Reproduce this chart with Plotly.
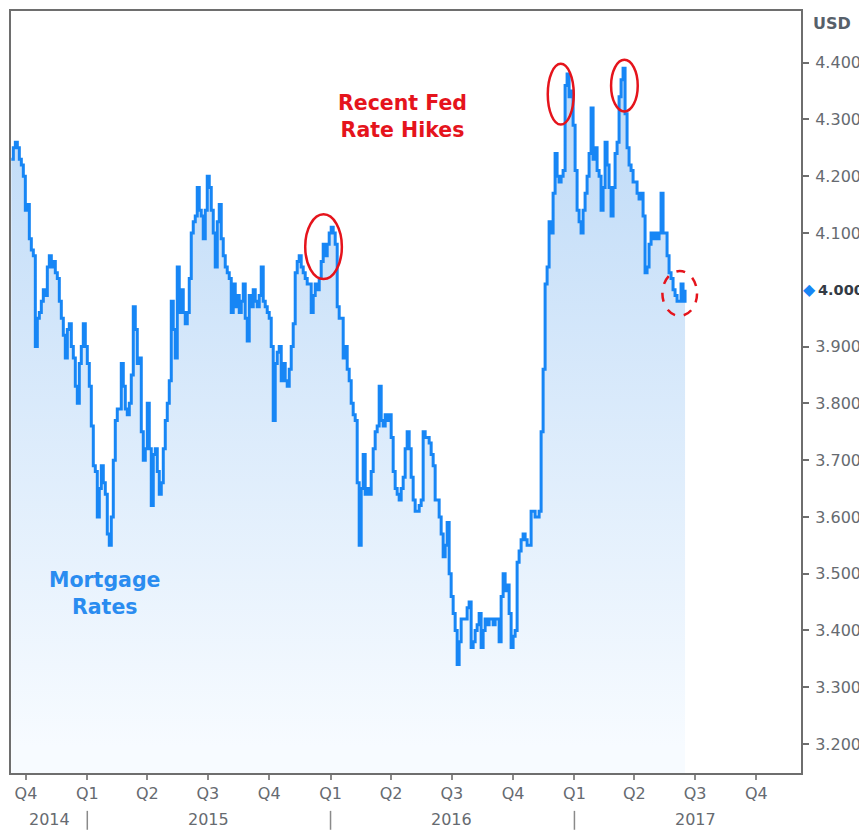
import plotly.graph_objects as go
import pandas as pd

# ---------------- data ----------------
start_date = "2014-09-09"
step_days = 3
rates = [
    4.23, 4.25, 4.26, 4.25, 4.23, 4.22, 4.20, 4.14, 4.15, 4.09,
    4.07, 4.06, 3.90, 3.95, 3.96, 3.98, 4.00, 3.99, 4.04, 4.06,
    4.04, 4.05, 4.03, 4.02, 3.98, 3.95, 3.92, 3.88, 3.93, 3.94,
    3.90, 3.88, 3.83, 3.80, 3.87, 3.90, 3.94, 3.90, 3.87, 3.83,
    3.76, 3.69, 3.68, 3.60, 3.65, 3.69, 3.66, 3.64, 3.57, 3.55,
    3.60, 3.70, 3.77, 3.79, 3.79, 3.87, 3.83, 3.79, 3.78, 3.80,
    3.85, 3.97, 3.93, 3.87, 3.88, 3.75, 3.70, 3.72, 3.80, 3.72,
    3.62, 3.71, 3.72, 3.68, 3.64, 3.66, 3.72, 3.77, 3.80, 3.84,
    3.98, 3.93, 3.88, 4.04, 3.96, 4.00, 3.96, 3.94, 3.96, 4.02,
    4.10, 4.12, 4.13, 4.18, 4.14, 4.13, 4.09, 4.14, 4.20, 4.18,
    4.14, 4.10, 4.04, 4.12, 4.15, 4.09, 4.06, 4.04, 4.03, 4.02,
    3.96, 4.01, 3.97, 3.99, 3.96, 3.98, 4.01, 3.95, 3.91, 3.99,
    3.97, 4.00, 3.98, 3.97, 3.99, 4.04, 3.98, 3.97, 3.96, 3.95,
    3.90, 3.77, 3.87, 3.89, 3.90, 3.84, 3.87, 3.84, 3.83, 3.86,
    3.90, 3.94, 4.03, 4.05, 4.06, 4.04, 4.03, 4.02, 4.01, 4.01,
    3.96, 3.99, 4.01, 4.00, 4.02, 4.05, 4.08, 4.06, 4.08, 4.10,
    4.11, 4.10, 4.08, 3.97, 3.95, 3.95, 3.88, 3.90, 3.86, 3.84,
    3.80, 3.78, 3.77, 3.66, 3.55, 3.65, 3.71, 3.64, 3.65, 3.64,
    3.68, 3.72, 3.75, 3.76, 3.83, 3.77, 3.76, 3.78, 3.77, 3.78,
    3.74, 3.68, 3.65, 3.64, 3.63, 3.65, 3.67, 3.72, 3.75, 3.72,
    3.67, 3.63, 3.61, 3.61, 3.62, 3.63, 3.75, 3.74, 3.74, 3.73,
    3.71, 3.69, 3.63, 3.63, 3.60, 3.57, 3.53, 3.55, 3.59, 3.50,
    3.46, 3.43, 3.40, 3.34, 3.38, 3.42, 3.42, 3.42, 3.44, 3.45,
    3.37, 3.38, 3.40, 3.41, 3.43, 3.37, 3.40, 3.42, 3.41, 3.42,
    3.42, 3.41, 3.42, 3.42, 3.38, 3.46, 3.50, 3.47, 3.48, 3.43,
    3.37, 3.39, 3.40, 3.52, 3.54, 3.56, 3.57, 3.56, 3.55, 3.55,
    3.61, 3.61, 3.60, 3.60, 3.61, 3.75, 3.86, 4.01, 4.04, 4.12,
    4.10, 4.17, 4.24, 4.20, 4.19, 4.20, 4.21, 4.36, 4.38, 4.34,
    4.35, 4.29, 4.21, 4.14, 4.12, 4.10, 4.14, 4.17, 4.20, 4.24,
    4.32, 4.23, 4.25, 4.21, 4.20, 4.14, 4.18, 4.26, 4.22, 4.18,
    4.13, 4.18, 4.24, 4.26, 4.34, 4.37, 4.39, 4.31, 4.25, 4.22,
    4.21, 4.19, 4.19, 4.17, 4.16, 4.17, 4.13, 4.03, 4.04, 4.08,
    4.10, 4.09, 4.10, 4.09, 4.10, 4.17, 4.10, 4.10, 4.06, 4.03,
    4.02, 4.00, 3.99, 3.98, 3.98, 4.01, 3.98, 4.00,
]
dates = pd.date_range(start_date, periods=len(rates), freq=f"{step_days}D")

quarter_ticks = ["2014-10-01", "2015-01-01", "2015-04-01", "2015-07-01", "2015-10-01",
                 "2016-01-01", "2016-04-01", "2016-07-01", "2016-10-01",
                 "2017-01-01", "2017-04-01", "2017-07-01", "2017-10-01"]
quarter_labels = ["Q4", "Q1", "Q2", "Q3", "Q4", "Q1", "Q2", "Q3", "Q4", "Q1", "Q2", "Q3", "Q4"]
year_labels = ["2014", "2015", "2016", "2017"]
year_centers = ["2014-11-05", "2015-07-02", "2016-07-01", "2017-07-01"]
year_breaks = ["2015-01-01", "2016-01-01", "2017-01-01"]
y_ticks = [3.2, 3.3, 3.4, 3.5, 3.6, 3.7, 3.8, 3.9, 4.1, 4.2, 4.3, 4.4]
last_value = 4.000

# ---------------- figure ----------------
LINE = "#1786f5"
GRAY = "#666a70"
RED = "#e5141c"

fig = go.Figure()
fig.add_trace(go.Scatter(
    x=dates, y=rates, mode="lines", line=dict(color=LINE, width=3, shape="hv"),
    fill="tozeroy",
    fillgradient=dict(type="vertical", start=3.2, stop=4.4,
                      colorscale=[[0, "#f7fbff"], [1, "#bcd9f7"]]),
    hoverinfo="skip", showlegend=False,
))

# page body adds an 8px offset; size the figure so the frame lands where the reference has it
fig.update_layout(
    width=859, height=822,
    margin=dict(l=1, r=66, t=1, b=57),
    paper_bgcolor="white", plot_bgcolor="white",
    font=dict(family="DejaVu Sans", size=16, color=GRAY),
    showlegend=False,
)
fig.update_xaxes(
    type="date", range=["2014-09-08T12:00", "2017-12-07"],
    tickvals=quarter_ticks, ticktext=quarter_labels,
    ticks="outside", ticklen=5, tickwidth=1.5, tickcolor="#8a8a8a",
    showgrid=False, zeroline=False,
    showline=True, mirror=True, linecolor="#6e6e6e", linewidth=2,
    tickfont=dict(size=16, color=GRAY),
)
fig.update_yaxes(
    side="right", range=[3.149, 4.491],
    tickvals=y_ticks, ticktext=[f"{v:.3f}" for v in y_ticks],
    ticks="outside", ticklen=6, tickwidth=1.5, tickcolor="#6e6e6e",
    ticklabelstandoff=3,
    showgrid=False, zeroline=False,
    showline=True, mirror=True, linecolor="#6e6e6e", linewidth=2,
    tickfont=dict(size=16, color=GRAY),
)

# year row
for lbl, xc in zip(year_labels, year_centers):
    fig.add_annotation(x=xc, y=-0.0615, xref="x", yref="paper", text=lbl,
                       showarrow=False, font=dict(size=16, color=GRAY),
                       xanchor="center", yanchor="middle")
for xb in year_breaks:
    fig.add_shape(type="line", x0=xb, x1=xb, xref="x", yref="paper",
                  y0=-0.0497, y1=-0.0745, line=dict(color="#8a8a8a", width=1.5))

# right axis header and last value
fig.add_annotation(x=1.0126, y=0.983, xref="paper", yref="paper", text="<b>USD</b>",
                   showarrow=False, xanchor="left", yanchor="middle",
                   font=dict(size=16, color="#56606a"))
fig.add_annotation(x=1.0113, y=last_value, xref="paper", yref="y", text="◆",
                   showarrow=False, xanchor="center", yanchor="middle",
                   font=dict(size=16, color=LINE))
fig.add_annotation(x=1.0185, y=last_value, xref="paper", yref="y",
                   text=f"<b>{last_value:.3f}</b>",
                   showarrow=False, xanchor="left", yanchor="middle",
                   font=dict(size=14.5, color="#333a44"))

# text labels
fig.add_annotation(x="2016-04-18", y=4.305, xref="x", yref="y",
                   text="<b>Recent Fed<br>Rate Hikes</b>", showarrow=False,
                   font=dict(size=20.5, color=RED), align="center",
                   xanchor="center", yanchor="middle")
fig.add_annotation(x="2015-01-27", y=3.465, xref="x", yref="y",
                   text="<b>Mortgage<br>Rates</b>", showarrow=False,
                   font=dict(size=20.5, color="#2a8cf0"), align="center",
                   xanchor="center", yanchor="middle")

# highlight circles
circles = [
    ("2015-11-24", "2016-01-18", 4.019, 4.133, "solid"),
    ("2016-11-22", "2016-12-31", 4.291, 4.398, "solid"),
    ("2017-02-25", "2017-04-06", 4.314, 4.405, "solid"),
    ("2017-05-13", "2017-07-04", 3.954, 4.033, "dash"),
]
for x0, x1, y0, y1, dash in circles:
    fig.add_shape(type="circle", xref="x", yref="y", x0=x0, x1=x1, y0=y0, y1=y1,
                  line=dict(color=RED, width=2.5, dash=dash))

fig.write_html("out.html")
